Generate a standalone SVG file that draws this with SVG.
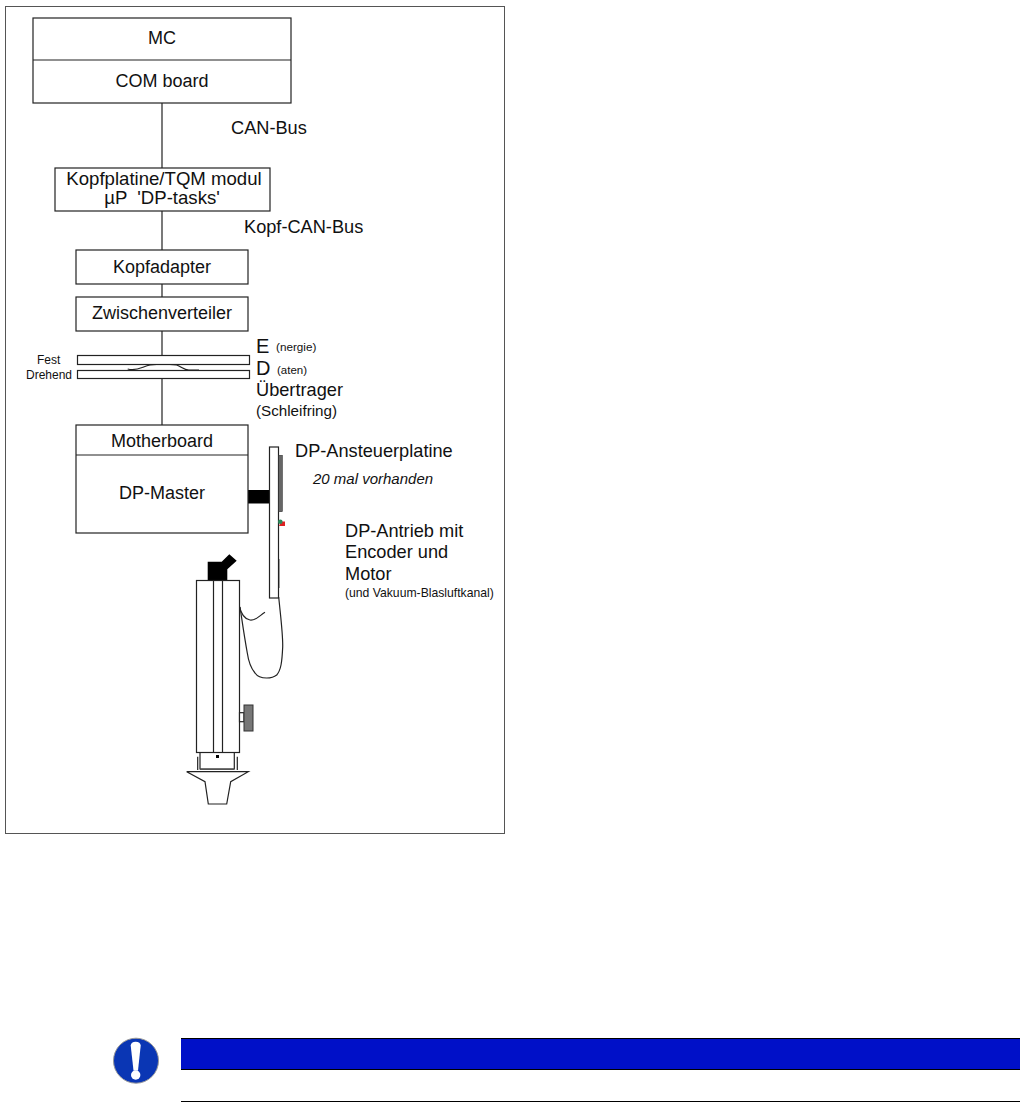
<svg xmlns="http://www.w3.org/2000/svg" width="1020" height="1102" viewBox="0 0 1020 1102">
<style>
text{font-family:"Liberation Sans",Arial,sans-serif;fill:#111}
.b{fill:#fff;stroke:#222;stroke-width:1.2}
.l{fill:none;stroke:#222;stroke-width:1.2}
.m{text-anchor:middle;font-size:18px}
.s{font-size:18.200px}
.t{font-size:12px}
.d{font-size:18.200px}
</style>
<rect width="1020" height="1102" fill="#fff"/>
<rect x="5.500" y="6.500" width="499" height="827" fill="#fff" stroke="#555" stroke-width="1"/>
<g id="connectors">
<path class="l" d="M162 103V168M162 211V250M162 284V297M162 331V355M162 379V425"/>
<path class="l" d="M127.700 369C137 372 143 366 150 365C158 364 168 364 176.700 365C182 367 185 371 190 370H199"/>
<path d="M248 490H269.500V503.500H248Z" fill="#000"/>
<path class="l" d="M239 605C241 614 244 619 250 620C256 621 260 615 265 612.300"/>
<path class="l" d="M278.700 597C281 620 283 635 282.700 647C282 662 281 670 276.700 675C273 678 270 678 266.700 678C261 678 257 676 255 673C250 667 248 658 247.300 653C244 635 242 620 240 607"/>
</g>
<g id="mc"><rect class="b" x="33" y="18" width="258" height="85"/><path class="l" d="M33 60H291"/><text class="m" x="162" y="44">MC</text><text class="m" x="162" y="87">COM board</text></g>
<g id="kopfplatine"><rect class="b" x="55" y="168" width="215" height="43"/><text class="m" style="font-size:18.600px" x="164" y="185">Kopfplatine/TQM modul</text><text class="m" style="font-size:18.600px" x="162" y="204" xml:space="preserve">µP  'DP-tasks'</text></g>
<g id="kopfadapter"><rect class="b" x="76" y="250" width="172" height="34"/><text class="m" x="162" y="273">Kopfadapter</text></g>
<g id="zwischenverteiler"><rect class="b" x="76" y="297" width="172" height="34"/><text class="m" x="162" y="319">Zwischenverteiler</text></g>
<g id="fest"><rect class="b" x="77.500" y="355.500" width="172" height="9"/><text class="t" x="37" y="364">Fest</text></g>
<g id="drehend"><rect class="b" x="77.500" y="370.500" width="172" height="8"/><text class="t" x="26" y="379">Drehend</text></g>
<g id="motherboard"><rect class="b" x="76" y="425" width="172" height="108"/><path class="l" d="M76 455H248"/><text class="m" x="162" y="447">Motherboard</text><text class="m" x="162" y="499">DP-Master</text></g>
<g id="ansteuerplatine"><rect class="b" x="269.500" y="447" width="9" height="151"/><rect x="278.700" y="455.300" width="3.600" height="56.400" fill="#666" stroke="#333" stroke-width=".6"/><path d="M279.500 559V588" stroke="#999" stroke-width="1"/><path d="M281 521.500H285V526H279Z" fill="#d22"/><circle cx="280.300" cy="521.700" r="2.300" fill="#2a8a5a"/></g>
<g id="antrieb">
<path d="M207.700 561.700H221.700L229.300 554.300L236.700 560.700L227.300 569.300V580H207.700Z" fill="#000"/>
<rect class="b" x="196.500" y="580.500" width="43" height="172"/><path class="l" d="M213.500 580V752M222.500 580V752"/>
<rect class="b" x="239.500" y="712.700" width="4.500" height="9"/><rect x="244" y="705" width="9" height="26" fill="#777" stroke="#333" stroke-width="1"/>
<path class="l" d="M200 752V769H234.300V752M197.700 756.700V770M237.300 756.700V770"/><path d="M200 769.300H234.300" stroke="#555" stroke-width="1.500"/>
<rect x="216" y="755" width="3" height="3" fill="#000"/>
<path class="l" d="M186.700 771.700H248.300L230.700 781.700L226.700 804H208.300L205 781.700Z"/>
</g>
<g id="labels">
<text class="s" x="231" y="134">CAN-Bus</text>
<text class="s" x="244" y="233">Kopf-CAN-Bus</text>
<text font-size="20" x="256" y="353">E</text><text font-size="11.700" x="276" y="351">(nergie)</text>
<text font-size="20" x="256" y="375">D</text><text font-size="11.500" x="277" y="374">(aten)</text>
<text class="s" x="256" y="396">Übertrager</text>
<text font-size="15.200" x="256" y="416">(Schleifring)</text>
<text class="s" x="295" y="457">DP-Ansteuerplatine</text>
<text font-size="15" font-style="italic" x="313" y="484">20 mal vorhanden</text>
<text class="d" x="345" y="537">DP-Antrieb mit</text>
<text class="d" x="345" y="558">Encoder und</text>
<text class="d" x="345" y="580">Motor</text>
<text font-size="12.200" x="345" y="597">(und Vakuum-Blasluftkanal)</text>
</g>
<g id="notice">
<rect x="181" y="1038" width="839" height="32" fill="#0010c8"/><path d="M181 1038.500H1020M181 1069.500H1020M181 1101.500H1020" stroke="#000" stroke-width="1"/>
<circle cx="136" cy="1060.700" r="22.500" fill="#0a36b4" stroke="#999" stroke-width="1"/>
<path d="M130.700 1045.500Q131 1041.700 135.700 1041.700Q140.400 1041.700 140.700 1045.500L138 1070.500H133.500Z" fill="#fff"/><circle cx="135.700" cy="1075" r="4.700" fill="#fff"/>
</g>
</svg>
